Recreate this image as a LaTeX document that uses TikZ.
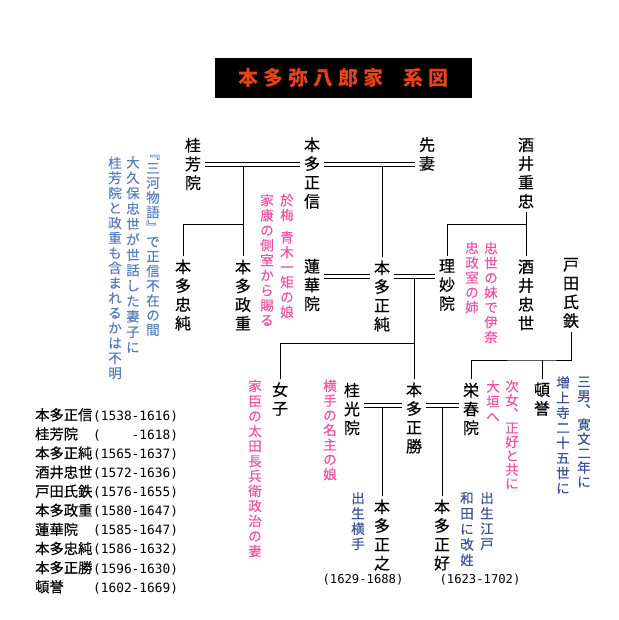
\documentclass[tikz,border=0pt]{standalone}
\usepackage{fontspec}
\newfontfamily\jp{Noto Sans CJK JP}
\newfontfamily\jpname{Noto Sans CJK JP}[FakeBold=0.4]
\newfontfamily\jpnote{Noto Sans CJK JP}[FakeBold=0.2]
\newfontfamily\monofnt{DejaVu Sans Mono}
\definecolor{pinknote}{RGB}{238,82,160}
\definecolor{bluenote}{RGB}{88,124,188}
\definecolor{bluedark}{RGB}{58,82,150}
\definecolor{titlered}{RGB}{232,66,22}
\tikzset{
  person/.style={inner sep=3.5pt, align=center, font=\jpname\fontsize{16}{18.8}\selectfont},
  pnote/.style={inner sep=1pt, align=center, text=pinknote, font=\jpnote\fontsize{13.5}{#1}\selectfont},
  pnote/.default=14.9,
  bnote/.style={inner sep=1pt, align=center, text=bluenote, font=\jpnote\fontsize{13.5}{#1}\selectfont},
  bnote/.default=15,
  dnote/.style={inner sep=1pt, align=center, text=bluedark, font=\jpnote\fontsize{13.5}{#1}\selectfont},
  dnote/.default=15,
  marriage/.style={double, double distance=3pt, line width=1pt},
  link/.style={line width=1pt},
  yr/.style={inner sep=0pt, font=\monofnt\fontsize{12.2}{14}\selectfont},
}
\begin{document}
\begin{tikzpicture}[x=1pt,y=-1pt]
\useasboundingbox (0,0) rectangle (618,620);
\fill[white] (0,0) rectangle (618,620);

% title
\node[fill=black, minimum width=257pt, minimum height=40pt, inner sep=0pt,
      text=titlered, font=\jp\bfseries\fontsize{20}{20}\selectfont] (title) at (343.5,78)
  {本\hspace{5pt}多\hspace{5pt}弥\hspace{5pt}八\hspace{5pt}郎\hspace{5pt}家\hspace{20pt}系\hspace{5pt}図};

% persons
\node[person] (keihoin)    at (193,164) {桂\\芳\\院};
\node[person] (masanobu)   at (312,173) {本\\多\\正\\信};
\node[person] (sensai)     at (427,154) {先\\妻};
\node[person] (shigetada)  at (526,173) {酒\\井\\重\\忠};
\node[person] (tadazumi)   at (183,295) {本\\多\\忠\\純};
\node[person] (masashige)  at (243,295) {本\\多\\政\\重};
\node[person] (rengein)    at (312,285) {蓮\\華\\院};
\node[person] (masazumi)   at (382,296) {本\\多\\正\\純};
\node[person] (rimyoin)    at (447,285) {理\\妙\\院};
\node[person] (tadayo)     at (526,295) {酒\\井\\忠\\世};
\node[person] (ujikane)    at (571,293) {戸\\田\\氏\\鉄};
\node[person] (joshi)      at (280,399) {女\\子};
\node[person] (keikoin)    at (352,409) {桂\\光\\院};
\node[person] (masakatsu)  at (414,418) {本\\多\\正\\勝};
\node[person] (eishunin)   at (471,409) {栄\\春\\院};
\node[person] (tonyo)      at (542,399) {頓\\誉};
\node[person] (masayuki)   at (382,535) {本\\多\\正\\之};
\node[person] (masayoshi)  at (442,535) {本\\多\\正\\好};

% levels and junctions
\coordinate (lvA) at (0,165);
\coordinate (lvB) at (0,276);
\coordinate (lvC) at (0,405);
\coordinate (jKM)  at (243,167);
\coordinate (jKMb) at (243,224);
\coordinate (jMS)  at (382,167);
\coordinate (jMR)  at (414,278);
\coordinate (jMRb) at (414,343);
\coordinate (jSH)  at (526,224);
\coordinate (jUJ)  at (542,360);
\coordinate (jKK)  at (382,407);
\coordinate (jKE)  at (442,407);

% connectors
\draw[marriage] (keihoin.east |- lvA) -- (masanobu.west |- lvA);
\draw[marriage] (masanobu.east |- lvA) -- (sensai.west |- lvA);
\draw[link] (jKM) -- (masashige.north);
\draw[link] (jKMb) -| (tadazumi.north);
\draw[link] (jMS) -- (masazumi.north);
\draw[marriage] (rengein.east |- lvB) -- (masazumi.west |- lvB);
\draw[marriage] (masazumi.east |- lvB) -- (rimyoin.west |- lvB);
\draw[link] (jMR) -- (masakatsu.north);
\draw[link] (jMRb) -| (joshi.north);
\draw[link] (shigetada.south) -- (tadayo.north);
\draw[link] (jSH) -| (rimyoin.north);
\draw[link] (ujikane.south) |- (jUJ) -| (eishunin.north);
\draw[link] (jUJ) -- (tonyo.north);
\draw[marriage] (keikoin.east |- lvC) -- (masakatsu.west |- lvC);
\draw[marriage] (masakatsu.east |- lvC) -- (eishunin.west |- lvC);
\draw[link] (jKK) -- (masayuki.north);
\draw[link] (jKE) -- (masayoshi.north);

% notes
\node[pnote] (oume1) at (287,256) {於\\梅\\[7.4pt]青\\木\\一\\矩\\の\\娘};
\node[pnote=15] (oume2) at (267,260) {家\\康\\の\\側\\室\\か\\ら\\賜\\る};
\node[bnote=14.7] (mikawa1) at (153,245.5) {﹃\\三\\河\\物\\語\\﹄\\で\\正\\信\\不\\在\\の\\間};
\node[bnote=15.4] (mikawa2) at (133,254.5) {大\\久\\保\\忠\\世\\が\\世\\話\\し\\た\\妻\\子\\に};
\node[bnote=15] (mikawa3) at (115,268) {桂\\芳\\院\\と\\政\\重\\も\\含\\ま\\れ\\る\\か\\は\\不\\明};
\node[pnote=14.8] (tadayon1) at (491,292.5) {忠\\世\\の\\妹\\で\\伊\\奈};
\node[pnote=14.8] (tadayon2) at (472,277.5) {忠\\政\\室\\の\\姉};
\node[pnote=15] (joshin) at (255,468.5) {家\\臣\\の\\太\\田\\長\\兵\\衛\\政\\治\\の\\妻};
\node[pnote=14.7] (keikoinn) at (330,430) {横\\手\\の\\名\\主\\の\\娘};
\node[pnote=13.9] (eishun1) at (512,434.5) {次\\女\\︑\\正\\好\\と\\共\\に};
\node[pnote=15] (eishun2) at (493,401) {大\\垣\\へ};
\node[dnote=14.3] (tonyon1) at (584,432) {三\\男\\︑\\寛\\文\\二\\年\\に};
\node[dnote=15.1] (tonyon2) at (563,435) {増\\上\\寺\\二\\十\\五\\世\\に};
\node[dnote=15.3] (masayukin) at (358,521) {出\\生\\横\\手};
\node[dnote=15.3] (masayoshin1) at (487,521) {出\\生\\江\\戸};
\node[dnote=15.5] (masayoshin2) at (467,529) {和\\田\\に\\改\\姓};

% years under the sons
\node[yr] (yrmasayuki) at (363,580) {(1629-1688)};
\node[yr] (yrmasayoshi) at (480,580) {(1623-1702)};

% list of life dates
\node[inner sep=0pt, anchor=west, align=left, font=\jpname\fontsize{14.3}{19.1}\selectfont] (lifelist) at (35,501)
{\makebox[58pt][l]{本多正信}{\monofnt\fontsize{12.8}{14}\selectfont(1538-1616)}\\
 \makebox[58pt][l]{桂芳院}{\monofnt\fontsize{12.8}{14}\selectfont(\hphantom{1538}-1618)}\\
 \makebox[58pt][l]{本多正純}{\monofnt\fontsize{12.8}{14}\selectfont(1565-1637)}\\
 \makebox[58pt][l]{酒井忠世}{\monofnt\fontsize{12.8}{14}\selectfont(1572-1636)}\\
 \makebox[58pt][l]{戸田氏鉄}{\monofnt\fontsize{12.8}{14}\selectfont(1576-1655)}\\
 \makebox[58pt][l]{本多政重}{\monofnt\fontsize{12.8}{14}\selectfont(1580-1647)}\\
 \makebox[58pt][l]{蓮華院}{\monofnt\fontsize{12.8}{14}\selectfont(1585-1647)}\\
 \makebox[58pt][l]{本多忠純}{\monofnt\fontsize{12.8}{14}\selectfont(1586-1632)}\\
 \makebox[58pt][l]{本多正勝}{\monofnt\fontsize{12.8}{14}\selectfont(1596-1630)}\\
 \makebox[58pt][l]{頓誉}{\monofnt\fontsize{12.8}{14}\selectfont(1602-1669)}};
\end{tikzpicture}
\end{document}
